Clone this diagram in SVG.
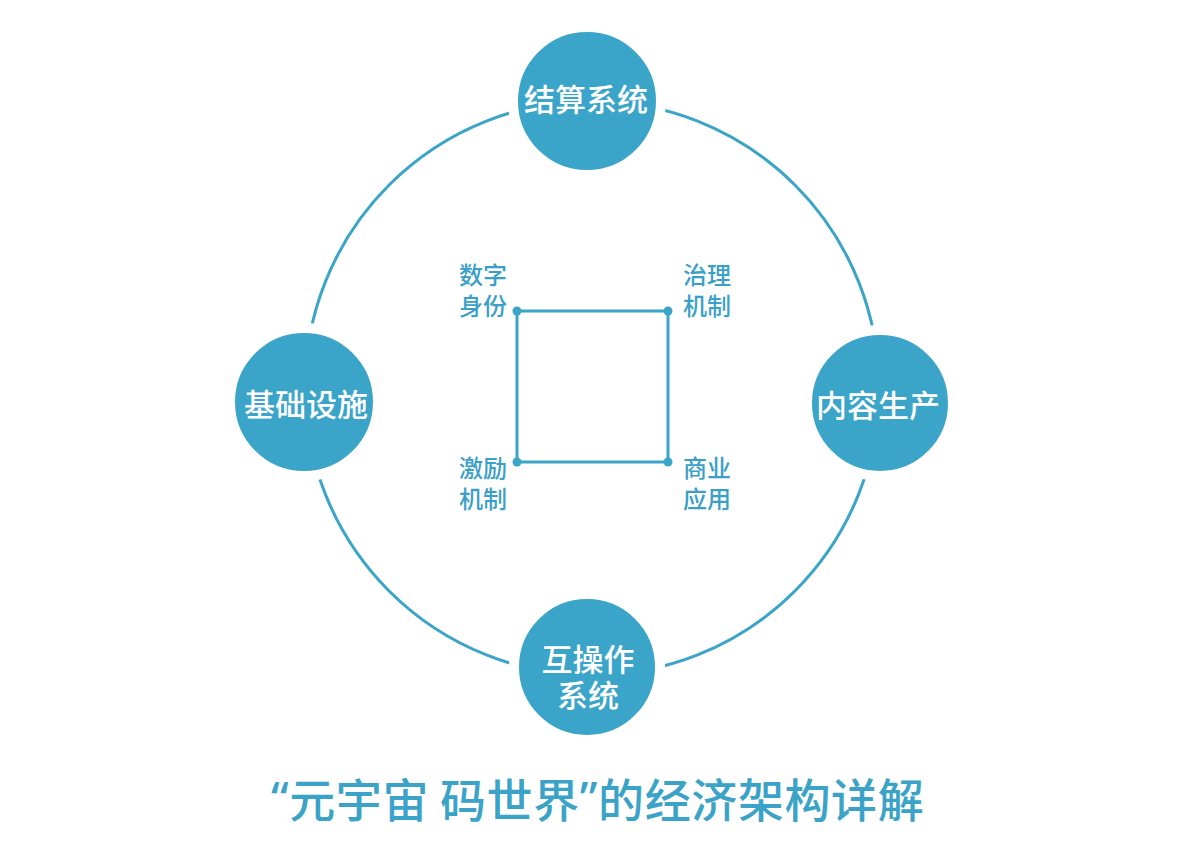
<svg xmlns="http://www.w3.org/2000/svg" width="1200" height="849" viewBox="0 0 1200 849">
<style>
.node{fill:#3aa4c9;stroke:#ffffff;stroke-width:10}
.nt{fill:#ffffff;font-family:"Noto Sans CJK SC","Noto Sans",sans-serif;font-size:31px;font-weight:500;text-anchor:middle;dominant-baseline:central}
.lb{fill:#3aa0c7;font-family:"Noto Sans CJK SC","Noto Sans",sans-serif;font-size:24px;font-weight:500;dominant-baseline:central}
.ln{fill:none;stroke:#3aa4c9;stroke-width:3}
.dot{fill:#3aa4c9}
</style>
<rect width="1200" height="849" fill="#ffffff"/>
<g id="connectors">
<circle class="ln" cx="592" cy="388" r="287"/>
<rect class="ln" x="517" y="311" width="151" height="151"/>
<circle class="dot" cx="517" cy="311" r="4.5"/>
<circle class="dot" cx="668" cy="311" r="4.5"/>
<circle class="dot" cx="517" cy="462" r="4.5"/>
<circle class="dot" cx="668" cy="462" r="4.5"/>
</g>
<g id="node-top">
<circle class="node" cx="587" cy="101" r="74"/>
<text class="nt" x="586" y="97">结算系统</text>
</g>
<g id="node-left">
<circle class="node" cx="304" cy="402" r="74"/>
<text class="nt" x="306" y="402">基础设施</text>
</g>
<g id="node-right">
<circle class="node" cx="880" cy="403" r="73"/>
<text class="nt" x="878" y="403">内容生产</text>
</g>
<g id="node-bottom">
<circle class="node" cx="587" cy="667" r="73"/>
<text class="nt" x="588" y="657">互操作<tspan x="588" y="693">系统</tspan></text>
</g>
<g id="label-tl">
<text class="lb" x="459" y="273">数字<tspan x="459" y="304">身份</tspan></text>
</g>
<g id="label-tr">
<text class="lb" x="683" y="273">治理<tspan x="683" y="304">机制</tspan></text>
</g>
<g id="label-bl">
<text class="lb" x="459" y="466">激励<tspan x="459" y="497">机制</tspan></text>
</g>
<g id="label-br">
<text class="lb" x="683" y="466">商业<tspan x="683" y="497">应用</tspan></text>
</g>
<g id="title">
<text x="271" y="797" fill="#3ba3c8" font-family="'Noto Sans CJK SC','Noto Sans',sans-serif" font-size="46" font-weight="500" letter-spacing="0.6" dominant-baseline="central"><tspan font-family="'Noto Sans',sans-serif">“</tspan>元宇宙 码世界<tspan font-family="'Noto Sans',sans-serif">”</tspan>的经济架构详解</text>
</g>
</svg>
